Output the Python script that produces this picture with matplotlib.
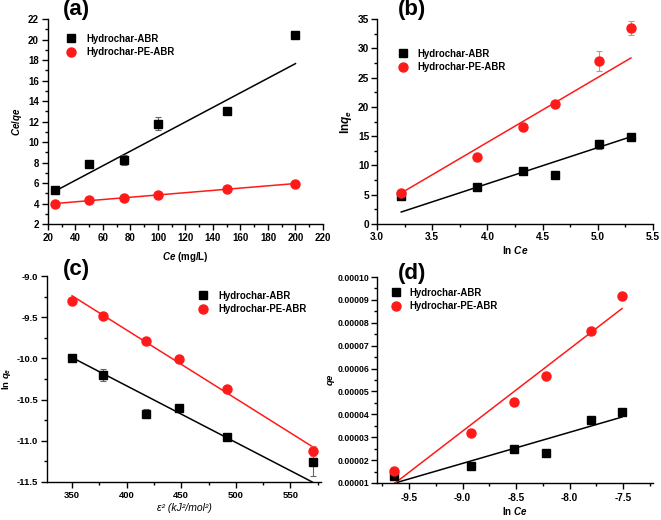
import numpy as np
import matplotlib
matplotlib.use("Agg")
from matplotlib import pyplot as plt
from matplotlib.ticker import MultipleLocator, FormatStrFormatter

plt.rcParams['font.family'] = ['Liberation Sans', 'DejaVu Sans']
plt.rcParams['font.weight'] = 'bold'
plt.rcParams['axes.labelweight'] = 'bold'
plt.rcParams['axes.unicode_minus'] = False
plt.rcParams['mathtext.fontset'] = 'custom'
plt.rcParams['mathtext.it'] = 'Liberation Sans:italic:bold'
plt.rcParams['mathtext.rm'] = 'Liberation Sans:bold'
plt.rcParams['mathtext.bf'] = 'Liberation Sans:bold'

labels = ["Hydrochar-ABR", "Hydrochar-PE-ABR"]

# (a) Langmuir
a_x = [25, 50, 75, 100, 150, 200]
a_abr = [5.3, 7.85, 8.25, 11.8, 13.0, 20.4]
a_abr_err = [0.1, 0.1, 0.45, 0.65, 0.1, 0.1]
a_pe = [4.0, 4.3, 4.55, 4.85, 5.4, 5.95]
a_pe_err = [0.05, 0.05, 0.05, 0.05, 0.05, 0.05]
a_fit_x = [25, 200]
a_fit_abr = [5.2, 17.65]
a_fit_pe = [4.0, 5.95]

# (b) Freundlich
b_x = [3.22, 3.91, 4.32, 4.61, 5.01, 5.30]
b_abr = [4.7, 6.3, 9.0, 8.4, 13.6, 14.9]
b_abr_err = [0.3, 0.2, 0.2, 0.2, 0.8, 0.3]
b_pe = [5.3, 11.45, 16.5, 20.55, 27.8, 33.5]
b_pe_err = [0.3, 0.2, 0.3, 0.2, 1.7, 1.2]
b_fit_x = [3.22, 5.30]
b_fit_abr = [2.05, 14.9]
b_fit_pe = [5.3, 28.35]

# (c) D-R
c_x = [350, 378, 418, 448, 492, 571]
c_abr = [-9.99, -10.20, -10.67, -10.60, -10.955, -11.26]
c_abr_err = [0.03, 0.07, 0.05, 0.03, 0.03, 0.17]
c_pe = [-9.30, -9.48, -9.79, -10.01, -10.37, -11.12]
c_pe_err = [0.02, 0.03, 0.02, 0.02, 0.03, 0.06]
c_fit_x = [350, 570]
c_fit_abr = [-9.99, -11.5]
c_fit_pe = [-9.24, -11.07]

# (d) Temkin
d_x = [-9.64, -8.92, -8.52, -8.22, -7.80, -7.51]
d_abr = [1.29e-5, 1.76e-5, 2.49e-5, 2.31e-5, 3.75e-5, 4.10e-5]
d_pe = [1.52e-5, 3.17e-5, 4.55e-5, 5.66e-5, 7.63e-5, 9.18e-5]
d_fit_x = [-9.63, -7.51]
d_fit_abr = [1.0e-5, 3.88e-5]
d_fit_pe = [1.0e-5, 8.62e-5]


def panel(ax, x, abr, pe, fx, fabr, fpe, abr_err=None, pe_err=None,
          leg=(0.06, 0.93), pad=1.0, ticksize=6.2, tickpad=3):
    ax.plot(fx, fabr, color='black', lw=1.1, zorder=2)
    ax.plot(fx, fpe, color='#ff1a1a', lw=1.1, zorder=2)
    if abr_err is not None:
        ax.errorbar(x, abr, yerr=abr_err, fmt='none', ecolor='#666666',
                    elinewidth=0.8, capsize=2, capthick=0.8, zorder=3)
    if pe_err is not None:
        ax.errorbar(x, pe, yerr=pe_err, fmt='none', ecolor='#f08080',
                    elinewidth=0.8, capsize=2, capthick=0.8, zorder=3)
    h1, = ax.plot(x, abr, 's', color='black', ms=5.5, zorder=4, clip_on=False)
    h2, = ax.plot(x, pe, 'o', color='#ff1a1a', ms=6.5, zorder=5, clip_on=False)
    ax.legend([h1, h2], labels, loc='upper left', bbox_to_anchor=leg,
              frameon=False, handlelength=1.0, handletextpad=pad,
              borderpad=0, borderaxespad=0, labelspacing=0.35,
              prop={'weight': 'bold', 'size': 6.9})
    for s in ['top', 'right']:
        ax.spines[s].set_visible(False)
    for s in ['left', 'bottom']:
        ax.spines[s].set_linewidth(1.0)
    ax.tick_params(which='major', direction='out', length=4, width=1,
                   labelsize=ticksize, pad=tickpad)
    ax.tick_params(which='minor', direction='out', length=2, width=1)


fig = plt.figure(figsize=(6.61, 5.2), dpi=100)
ax_a = fig.add_axes([0.0726, 0.5692, 0.416, 0.3942])
ax_b = fig.add_axes([0.5703, 0.5692, 0.4176, 0.3942])
ax_c = fig.add_axes([0.0711, 0.0731, 0.4145, 0.3961])
ax_d = fig.add_axes([0.5703, 0.0712, 0.4176, 0.3961])

# (a)
panel(ax_a, a_x, a_abr, a_pe, a_fit_x, a_fit_abr, a_fit_pe, a_abr_err, a_pe_err,
      leg=(0.067, 0.929), pad=1.1, ticksize=7.0, tickpad=2.5)
ax_a.set_xlim(20, 220)
ax_a.set_ylim(2, 22)
ax_a.xaxis.set_major_locator(MultipleLocator(20))
ax_a.xaxis.set_minor_locator(MultipleLocator(10))
ax_a.yaxis.set_major_locator(MultipleLocator(2))
ax_a.yaxis.set_minor_locator(MultipleLocator(1))
ax_a.set_xlabel(r'$Ce$ (mg/L)', fontsize=7, labelpad=5)
ax_a.set_ylabel(r'$Ce/qe$', fontsize=7, labelpad=3)

# (b)
panel(ax_b, b_x, b_abr, b_pe, b_fit_x, b_fit_abr, b_fit_pe, b_abr_err, b_pe_err,
      leg=(0.077, 0.856), pad=1.0, ticksize=7.3, tickpad=1.5)
ax_b.set_xlim(3.0, 5.5)
ax_b.set_ylim(0, 35)
ax_b.xaxis.set_major_locator(MultipleLocator(0.5))
ax_b.xaxis.set_minor_locator(MultipleLocator(0.25))
ax_b.yaxis.set_major_locator(MultipleLocator(5))
ax_b.yaxis.set_minor_locator(MultipleLocator(2.5))
ax_b.xaxis.set_major_formatter(FormatStrFormatter('%.1f'))
ax_b.set_xlabel(r'ln $Ce$', fontsize=7.3, labelpad=2)
ax_b.set_ylabel(r'ln$q_e$', fontsize=8.5, labelpad=3)

# (c)
panel(ax_c, c_x, c_abr, c_pe, c_fit_x, c_fit_abr, c_fit_pe, c_abr_err, c_pe_err,
      leg=(0.552, 0.929), pad=1.1, ticksize=6.8, tickpad=2.5)
ax_c.set_xlim(327, 578)
ax_c.set_ylim(-11.5, -9.0)
ax_c.xaxis.set_major_locator(MultipleLocator(50))
ax_c.xaxis.set_minor_locator(MultipleLocator(25))
ax_c.yaxis.set_major_locator(MultipleLocator(0.5))
ax_c.yaxis.set_minor_locator(MultipleLocator(0.25))
ax_c.yaxis.set_major_formatter(FormatStrFormatter('%.1f'))
ax_c.set_xlabel('ε² (kJ²/mol²)', fontsize=7.5, fontstyle='italic',
                fontweight='normal', labelpad=2)
ax_c.set_ylabel(r'ln $q_e$', fontsize=6.8, labelpad=2.5)

# (d)
panel(ax_d, d_x, d_abr, d_pe, d_fit_x, d_fit_abr, d_fit_pe,
      leg=(0.052, 0.949), pad=0.9, ticksize=7.2)
ax_d.set_xlim(-9.80, -7.22)
ax_d.set_ylim(0.00001, 0.00010)
ax_d.xaxis.set_major_locator(MultipleLocator(0.5))
ax_d.xaxis.set_minor_locator(MultipleLocator(0.25))
ax_d.yaxis.set_major_locator(MultipleLocator(0.00001))
ax_d.yaxis.set_minor_locator(MultipleLocator(0.000005))
ax_d.yaxis.set_major_formatter(FormatStrFormatter('%.5f'))
ax_d.tick_params(axis='y', which='major', labelsize=6.3, pad=1.5)
ax_d.set_xlabel(r'ln $Ce$', fontsize=7, labelpad=2)
ax_d.set_ylabel(r'$qe$', fontsize=6.8, labelpad=0.5)

# panel letters
fig.text(63 / 661, 1 - 10 / 520, '(a)', fontsize=16, fontweight='bold', va='center')
fig.text(398 / 661, 1 - 10 / 520, '(b)', fontsize=16, fontweight='bold', va='center')
fig.text(63 / 661, 1 - 270 / 520, '(c)', fontsize=16, fontweight='bold', va='center')
fig.text(398 / 661, 1 - 273 / 520, '(d)', fontsize=16, fontweight='bold', va='center')

plt.savefig("out.png", dpi=100)
